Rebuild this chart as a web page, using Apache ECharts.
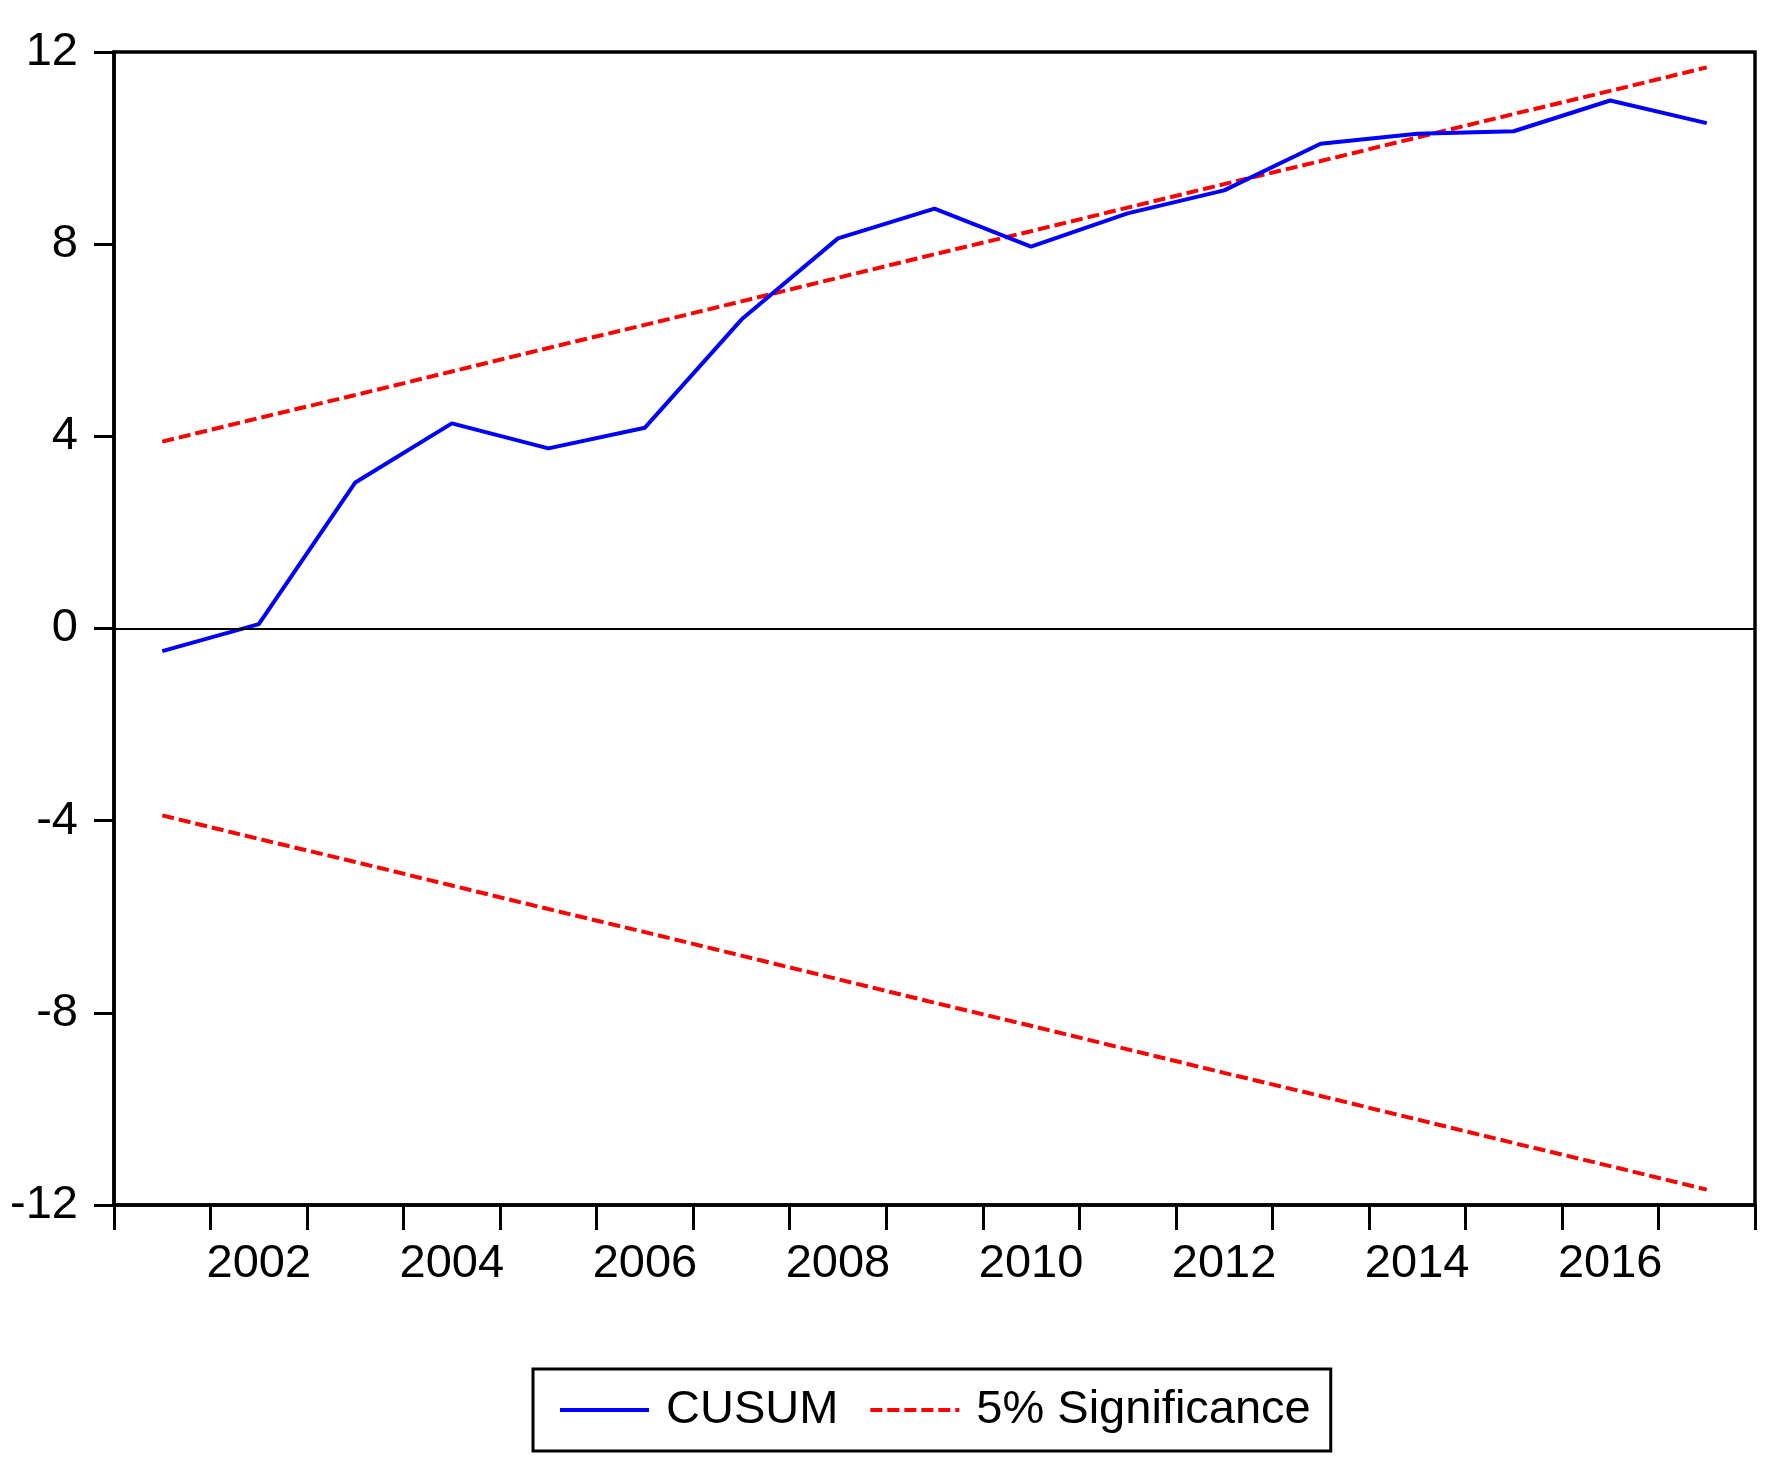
<!DOCTYPE html>
<html>
<head>
<meta charset="utf-8">
<style>
html,body{margin:0;padding:0;background:#fff;}
#chart{width:1787px;height:1482px;}
</style>
<script src="https://cdn.jsdelivr.net/npm/echarts@6/dist/echarts.min.js"></script>
</head>
<body>
<div id="chart"></div>
<script>
var years = ['2001','2002','2003','2004','2005','2006','2007','2008','2009','2010','2011','2012','2013','2014','2015','2016','2017'];
var cusum = [-0.47, 0.09, 3.04, 4.27, 3.75, 4.18, 6.43, 8.12, 8.74, 7.95, 8.64, 9.12, 10.09, 10.30, 10.35, 10.99, 10.52];
var upper = [3.89, 4.38, 4.86, 5.35, 5.84, 6.32, 6.81, 7.30, 7.79, 8.27, 8.76, 9.25, 9.73, 10.22, 10.71, 11.19, 11.68];
var lower = [-3.89, -4.38, -4.86, -5.35, -5.84, -6.32, -6.81, -7.30, -7.79, -8.27, -8.76, -9.25, -9.73, -10.22, -10.71, -11.19, -11.68];
var yTicks = [-12, -8, -4, 0, 4, 8, 12];

var FONT = '"Liberation Sans", Arial, sans-serif';
var chart = echarts.init(document.getElementById('chart'), null, {renderer: 'canvas'});
chart.setOption({
  animation: false,
  backgroundColor: '#ffffff',
  grid: {left: 114, right: 32, top: 52, bottom: 277, show: true, borderColor: '#000', borderWidth: 3.5, backgroundColor: 'transparent'},
  xAxis: {
    type: 'category',
    data: years,
    boundaryGap: true,
    axisLine: {show: true, onZero: false, lineStyle: {color: '#000', width: 3.5}},
    axisTick: {show: true, interval: 0, length: 25, lineStyle: {color: '#000', width: 3}},
    axisLabel: {
      interval: function (i, v) { return Number(v) % 2 === 0; },
      color: '#000', fontFamily: FONT, fontSize: 47, margin: 36
    },
    splitLine: {show: false}
  },
  yAxis: {
    type: 'value',
    min: yTicks[0], max: yTicks[yTicks.length - 1], interval: 4,
    axisLine: {show: true, lineStyle: {color: '#000', width: 3.5}},
    axisTick: {show: true, length: 20, lineStyle: {color: '#000', width: 3}},
    axisLabel: {color: '#000', fontFamily: FONT, fontSize: 47, margin: 36},
    splitLine: {show: false}
  },
  legend: {
    left: 533, top: 1369,
    data: ['CUSUM', '5% Significance'],
    orient: 'horizontal',
    borderColor: '#000', borderWidth: 3,
    padding: [15, 20, 15, 25],
    itemWidth: 89, itemHeight: 20, itemGap: 30,
    itemStyle: {opacity: 0},
    lineStyle: {width: 4},
    textStyle: {color: '#000', fontFamily: FONT, fontSize: 47, lineHeight: 52, padding: [0, 0, 0, 12]}
  },
  series: [
    {
      name: 'CUSUM', type: 'line', data: cusum, symbol: 'none',
      lineStyle: {color: '#0000ff', width: 4}, itemStyle: {color: '#0000ff'},
      z: 3,
      markLine: {
        silent: true, symbol: ['none', 'none'], label: {show: false},
        lineStyle: {color: '#000', width: 2, type: 'solid'},
        data: [{yAxis: 0}]
      }
    },
    {
      name: '5% Significance', type: 'line', data: upper, symbol: 'none',
      lineStyle: {color: '#ff0000', width: 4, type: [12, 5]}, itemStyle: {color: '#ff0000'}, z: 2
    },
    {
      name: '5% Significance', type: 'line', data: lower, symbol: 'none',
      lineStyle: {color: '#ff0000', width: 4, type: [12, 5]}, itemStyle: {color: '#ff0000'}, z: 2
    }
  ]
});
</script>
</body>
</html>
